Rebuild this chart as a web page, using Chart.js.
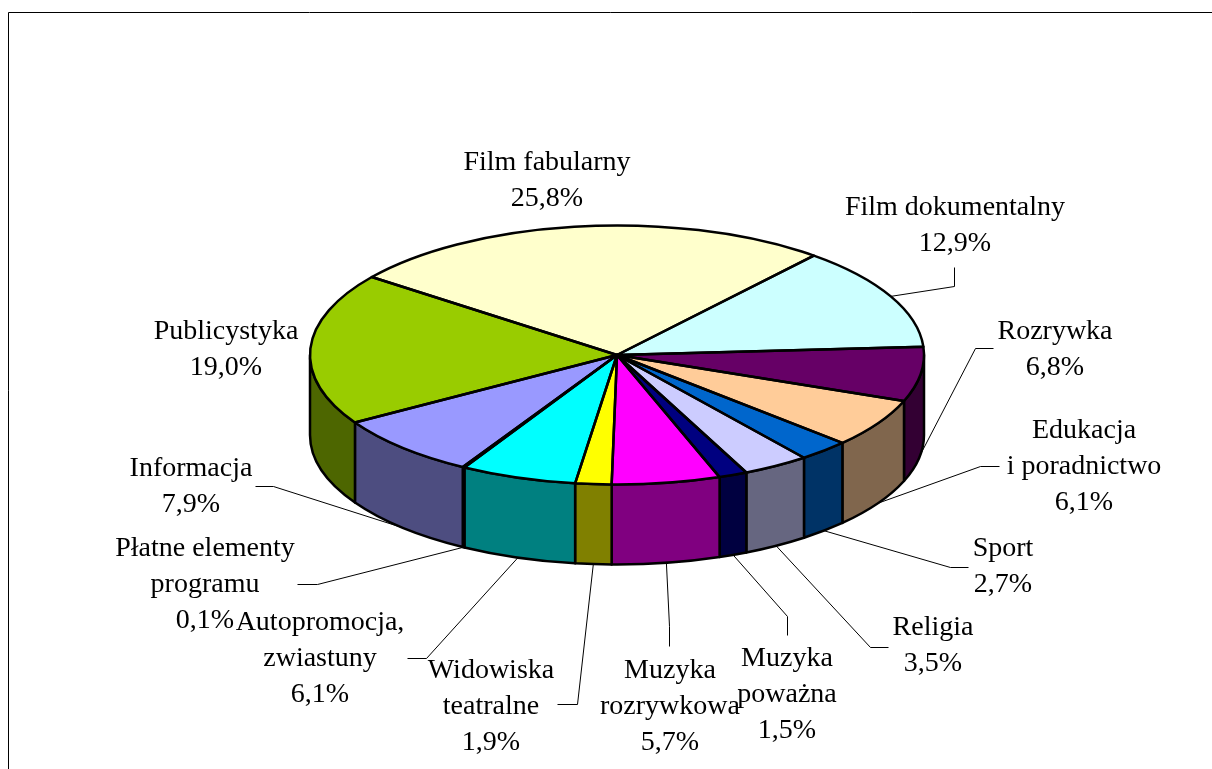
<!DOCTYPE html>
<html>
<head>
    <title>Struktura programu</title>
    <style>
        body {
            margin: 0;
            background-color: #fff;
        }
        canvas {
            display: block;
        }
    </style>
    <script src="https://cdn.jsdelivr.net/npm/chart.js"></script>
</head>
<body>
    <canvas id="pieChart" width="1212" height="769"></canvas>

    <script>
        // Chart data, in clockwise order starting from "Film fabularny"
        const categories = ["Film fabularny", "Film dokumentalny", "Rozrywka", "Edukacja i poradnictwo", "Sport", "Religia", "Muzyka poważna", "Muzyka rozrywkowa", "Widowiska teatralne", "Autopromocja, zwiastuny", "Płatne elementy programu", "Informacja", "Publicystyka"];
        const values = [25.8, 12.9, 6.8, 6.1, 2.7, 3.5, 1.5, 5.7, 1.9, 6.1, 0.1, 7.9, 19.0];
        const topColors = ["#FFFFCC", "#CCFFFF", "#660066", "#FFCC99", "#0066CC", "#CCCCFF", "#000080", "#FF00FF", "#FFFF00", "#00FFFF", "#800080", "#9999FF", "#99CC00"];
        const sideColors = ["#808066", "#668080", "#330033", "#80664D", "#003366", "#666680", "#000040", "#800080", "#808000", "#008080", "#400040", "#4D4D80", "#4D6600"];
        const labelLines = [["Film fabularny"], ["Film dokumentalny"], ["Rozrywka"], ["Edukacja", "i poradnictwo"], ["Sport"], ["Religia"], ["Muzyka", "poważna"], ["Muzyka", "rozrywkowa"], ["Widowiska", "teatralne"], ["Autopromocja,", "zwiastuny"], ["Płatne elementy", "programu"], ["Informacja"], ["Publicystyka"]];

        // Label layout: centre x, middle of first line y
        const labelX = [547, 955, 1055, 1084, 1003, 933, 787, 670, 491, 320, 205, 191, 226];
        const labelY = [163, 208, 332, 431, 549, 628, 659, 671, 671, 623, 549, 469, 332];
        // Leader lines: [elbow, end], null when the label sits right above the slice
        const leaders = [
            null,
            [[954, 286], [954, 267]],
            [[975, 348], [993, 348]],
            [[980, 466], [999, 466]],
            [[950, 567], [968, 567]],
            [[870, 647], [888, 647]],
            [[787, 616], [787, 635]],
            [[669, 626], [669, 646]],
            [[577, 704], [557, 704]],
            [[426, 658], [407, 658]],
            [[317, 584], [297, 584]],
            [[273, 486], [255, 486]],
            null
        ];

        const squash = 0.422;   // height of the ellipse / width of the ellipse
        const depth = 80;       // height of the pie wall
        const lineHeight = 36;

        function midAngle(arc) {
            return (arc.startAngle + arc.endAngle) / 2;
        }

        const pie3d = {
            id: "pie3d",
            beforeDraw(chart) {
                const ctx = chart.ctx;
                ctx.save();
                ctx.fillStyle = "#fff";
                ctx.fillRect(0, 0, chart.width, chart.height);
                // Page frame, open to the right and the bottom
                ctx.strokeStyle = "#000";
                ctx.lineWidth = 1;
                ctx.beginPath();
                ctx.moveTo(8.5, chart.height);
                ctx.lineTo(8.5, 12.5);
                ctx.lineTo(chart.width, 12.5);
                ctx.stroke();
                ctx.restore();
            },
            beforeDatasetsDraw(chart) {
                const ctx = chart.ctx;
                const arcs = chart.getDatasetMeta(0).data;
                ctx.save();

                // Leader lines go first so the pie covers their ends
                ctx.strokeStyle = "#000";
                ctx.lineWidth = 1;
                arcs.forEach((arc, i) => {
                    if (!leaders[i]) return;
                    const a = midAngle(arc);
                    const onWall = Math.sin(a) > 0 ? depth : 0;
                    ctx.beginPath();
                    ctx.moveTo(arc.x + arc.outerRadius * Math.cos(a), arc.y + arc.outerRadius * squash * Math.sin(a) + onWall);
                    ctx.lineTo(leaders[i][0][0] + 0.5, leaders[i][0][1] + 0.5);
                    ctx.lineTo(leaders[i][1][0] + 0.5, leaders[i][1][1] + 0.5);
                    ctx.stroke();
                });

                // Walls: only the part of each slice on the lower half of the ellipse
                ctx.strokeStyle = "#000";
                ctx.lineWidth = 2.5;
                ctx.lineJoin = "round";
                arcs.forEach((arc, i) => {
                    const rx = arc.outerRadius;
                    const ry = rx * squash;
                    const a0 = Math.max(arc.startAngle, 0);
                    const a1 = Math.min(arc.endAngle, Math.PI);
                    if (a1 <= a0) return;
                    ctx.beginPath();
                    ctx.ellipse(arc.x, arc.y, rx, ry, 0, a0, a1);
                    ctx.ellipse(arc.x, arc.y + depth, rx, ry, 0, a1, a0, true);
                    ctx.closePath();
                    ctx.fillStyle = sideColors[i];
                    ctx.fill();
                    ctx.stroke();
                });
                ctx.restore();
            },
            beforeDatasetDraw(chart) {
                // Flatten the library's circle into the top face of the pie
                const ctx = chart.ctx;
                const arc = chart.getDatasetMeta(0).data[0];
                ctx.save();
                ctx.translate(arc.x, arc.y);
                ctx.scale(1, squash);
                ctx.translate(-arc.x, -arc.y);
            },
            afterDatasetDraw(chart) {
                chart.ctx.restore();
            },
            afterDatasetsDraw(chart) {
                const ctx = chart.ctx;
                const arcs = chart.getDatasetMeta(0).data;
                ctx.save();

                // Outlines of the top face
                ctx.strokeStyle = "#000";
                ctx.lineWidth = 2.5;
                ctx.lineJoin = "round";
                arcs.forEach((arc) => {
                    ctx.beginPath();
                    ctx.moveTo(arc.x, arc.y);
                    ctx.ellipse(arc.x, arc.y, arc.outerRadius, arc.outerRadius * squash, 0, arc.startAngle, arc.endAngle);
                    ctx.closePath();
                    ctx.stroke();
                });

                // Labels
                ctx.fillStyle = "#000";
                ctx.font = "28px 'Liberation Serif'";
                ctx.textAlign = "center";
                ctx.textBaseline = "middle";
                labelLines.forEach((lines, i) => {
                    const percent = values[i].toFixed(1).replace(".", ",") + "%";
                    lines.concat(percent).forEach((text, n) => {
                        ctx.fillText(text, labelX[i], labelY[i] + n * lineHeight);
                    });
                });
                ctx.restore();
            }
        };

        new Chart(document.getElementById("pieChart").getContext("2d"), {
            type: "pie",
            data: {
                labels: categories,
                datasets: [{
                    data: values,
                    backgroundColor: topColors,
                    borderWidth: 0
                }]
            },
            options: {
                responsive: false,
                animation: false,
                rotation: -53,
                layout: {
                    padding: { left: 310, right: 288, top: 48, bottom: 107 }
                },
                plugins: {
                    legend: { display: false },
                    tooltip: { enabled: false }
                }
            },
            plugins: [pie3d]
        });
    </script>
</body>
</html>
